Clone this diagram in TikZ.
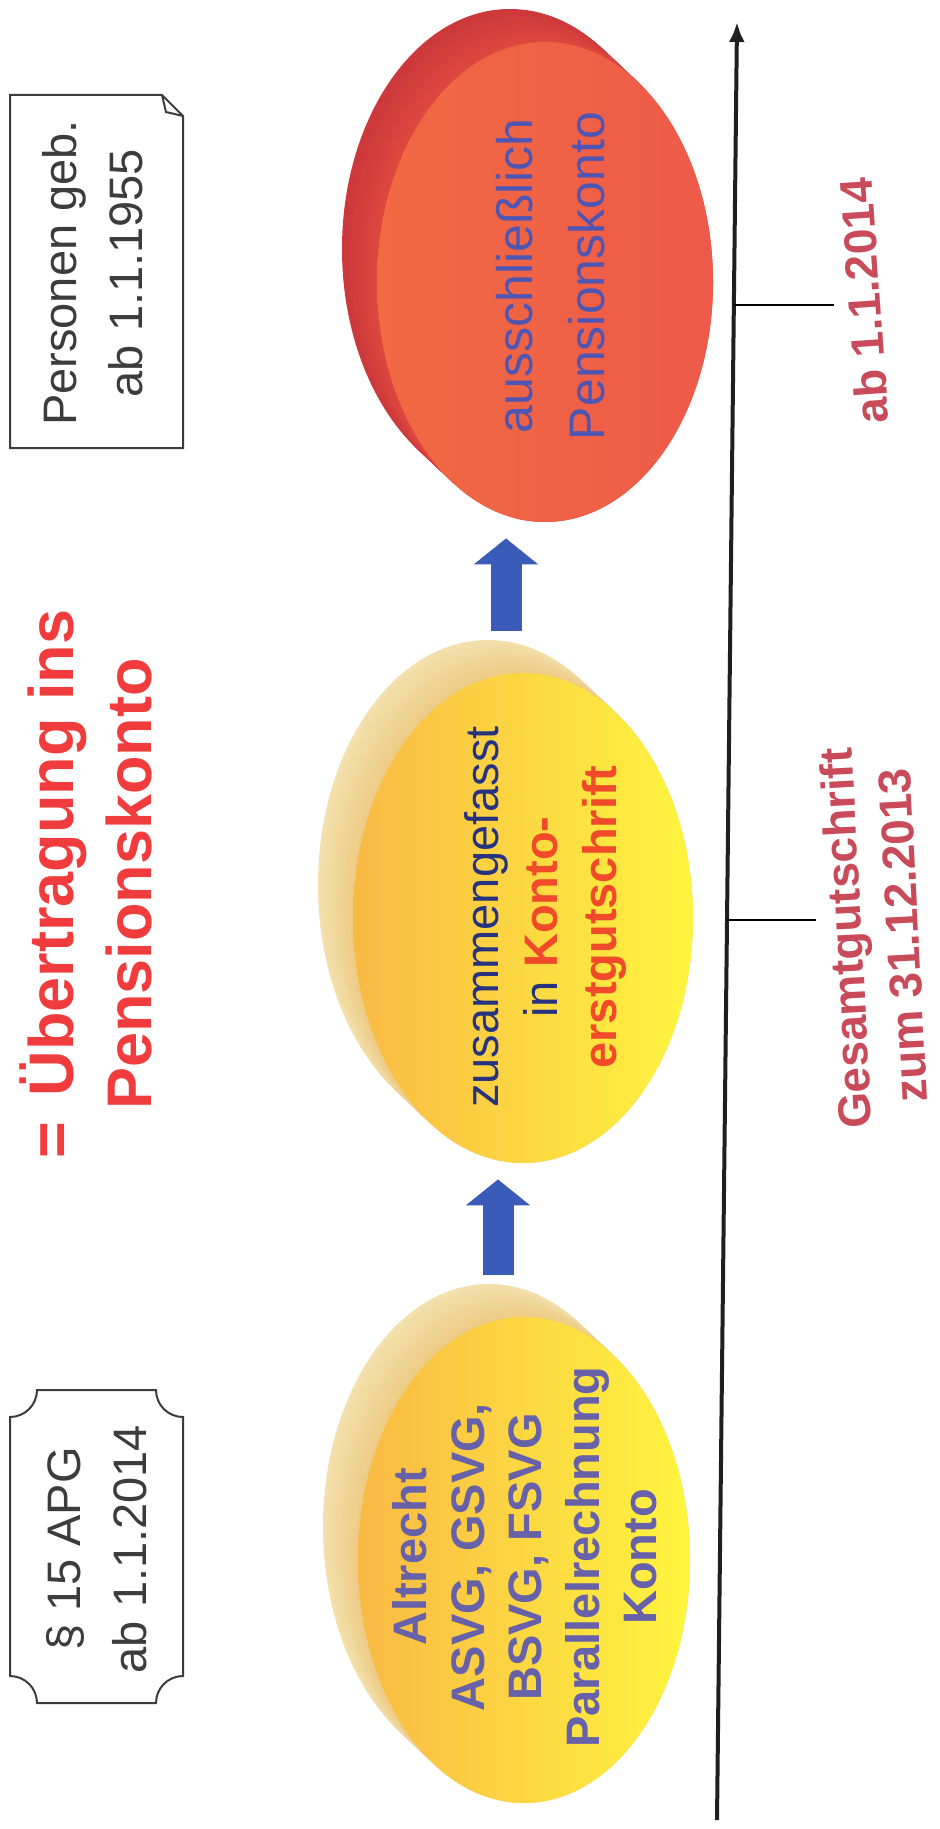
\documentclass[tikz,border=0pt]{standalone}
\usepackage{fontspec}
\setmainfont{Liberation Sans}
\usetikzlibrary{shapes.geometric,arrows.meta,calc}
\definecolor{titlered}{HTML}{F03C3C}
\definecolor{datered}{HTML}{C94B5A}
\definecolor{boxgray}{HTML}{3C3C3C}
\definecolor{altviolet}{HTML}{6661A9}
\definecolor{navy}{HTML}{27337F}
\definecolor{kontored}{HTML}{F04A2A}
\definecolor{discblue}{HTML}{4E55B2}
\definecolor{flowblue}{HTML}{3A5BB7}
\definecolor{yrimb}{HTML}{F3E0AC}
\definecolor{yrimf}{HTML}{EDCB84}
\definecolor{rrimb}{HTML}{CC383B}
\definecolor{rrimf}{HTML}{DE483E}
\definecolor{yleft}{HTML}{F9B944}
\definecolor{ymid}{HTML}{FFE53A}
\definecolor{yright}{HTML}{FFF53F}
\definecolor{rleft}{HTML}{F06A42}
\definecolor{rright}{HTML}{EE5A4A}
\tikzset{
  boxline/.style={draw=boxgray,line width=1pt},
  boxtext/.style={text=boxgray,align=center,rotate=90,font=\fontsize{23.5pt}{33pt}\selectfont},
  yface/.style={ellipse,inner sep=0pt,left color=yleft,middle color=ymid,right color=yright},
  rface/.style={ellipse,inner sep=0pt,left color=rleft,right color=rright},
  disctext/.style={align=center,rotate=90,inner sep=0pt},
  flow/.style={flowblue,line width=15.5pt,shorten <=21pt,shorten >=8pt,-{Triangle[width=31.5pt,length=13pt]}},
  datelabel/.style={text=datered,align=center,font=\bfseries\fontsize{23pt}{28.5pt}\selectfont},
  tick/.style={line width=1.2pt,shorten >=3pt},
}
\begin{document}
\begin{tikzpicture}[x=0.5pt,y=-0.5pt]
\useasboundingbox(0,0)rectangle(939,1829);
\fill[white](0,0)rectangle(939,1829);
%notice boxes
\draw[boxline](10,95)--(162,95)--(183,116)--(183,448)--(10,448)--cycle;
\draw[boxline](162,95)--(166,112)--(183,116);
\draw[boxline](37,1390)--(156,1390)arc[start angle=180,end angle=270,radius=13.5pt]--(183,1676)arc[start angle=90,end angle=180,radius=13.5pt]--(37,1703)arc[start angle=0,end angle=90,radius=13.5pt]--(10,1417)arc[start angle=270,end angle=360,radius=13.5pt]--cycle;
\node[boxtext](geb)at(93,273){Personen geb.\\ab 1.1.1955};
\node[boxtext](apg)at(97,1549){§ 15 APG\\ab 1.1.2014};
%title
\node[text=titlered,align=center,rotate=90,font=\bfseries\fontsize{31.5pt}{39pt}\selectfont](title)at(86,884){=\hspace{0.4em}Übertragung ins\\Pensionskonto};
%disc rims
\foreach \cx/\cy/\rx/\ry/\cb/\cf in {524/1560/166/243/yrimb/yrimf,523/918/170/245/yrimb/yrimf,545/282/168/240/rrimb/rrimf}{
\foreach[evaluate=\k as \p using 100*\k/16,evaluate=\k as \s using 1-\k/16]\k in {0,...,16}{
\fill[\cf!\p!\cb]({\cx-35*\s},{\cy-33*\s})ellipse[x radius={\rx*0.5pt},y radius={\ry*0.5pt}];
}}
%disc faces
\node[yface,minimum width=166pt,minimum height=243pt](alt)at(524,1560){};
\node[yface,minimum width=170pt,minimum height=245pt](erst)at(523,918){};
\node[rface,minimum width=168pt,minimum height=240pt](konto)at(545,282){};
%disc texts
\node[disctext,text=altviolet,font=\bfseries\fontsize{23.5pt}{28.75pt}\selectfont](alttext)at(525,1557){Altrecht\\ASVG, GSVG,\\BSVG, FSVG\\Parallelrechnung\\Konto};
\node[disctext,text=navy,font=\fontsize{23.5pt}{29.5pt}\selectfont](ersttext)at(545,917){zusammengefasst\\in \textbf{\color{kontored}Konto-}\\\textbf{\color{kontored}erstgutschrift}};
\node[disctext,text=discblue,font=\fontsize{25pt}{36pt}\selectfont](kontotext)at(551,276){ausschließlich\\Pensionskonto};
%arrows
\draw[flow]($(alt.north)+(-26,0)$)--($(alt.north|-erst.south)+(-26,0)$);
\draw[flow]($(erst.north)+(-17,0)$)--($(erst.north|-konto.south)+(-17,0)$);
%time axis
\coordinate(axbot)at(717,1820);
\coordinate(axtop)at(737,22);
\draw[line width=2pt,color=black!88,-{Latex[length=10pt,width=8pt]}](axbot)--(axtop);
\coordinate(t1)at($(axbot)!0.8426!(axtop)$);
\coordinate(t2)at($(axbot)!0.5006!(axtop)$);
\node[datelabel,rotate=94](lab1)at(864,301){ab 1.1.2014};
\node[datelabel,rotate=93](lab2)at(874,937){Gesamtgutschrift\\zum 31.12.2013};
\draw[tick](t1)--(t1-|lab1.north);
\draw[tick](t2)--(t2-|lab2.north);
\end{tikzpicture}
\end{document}
